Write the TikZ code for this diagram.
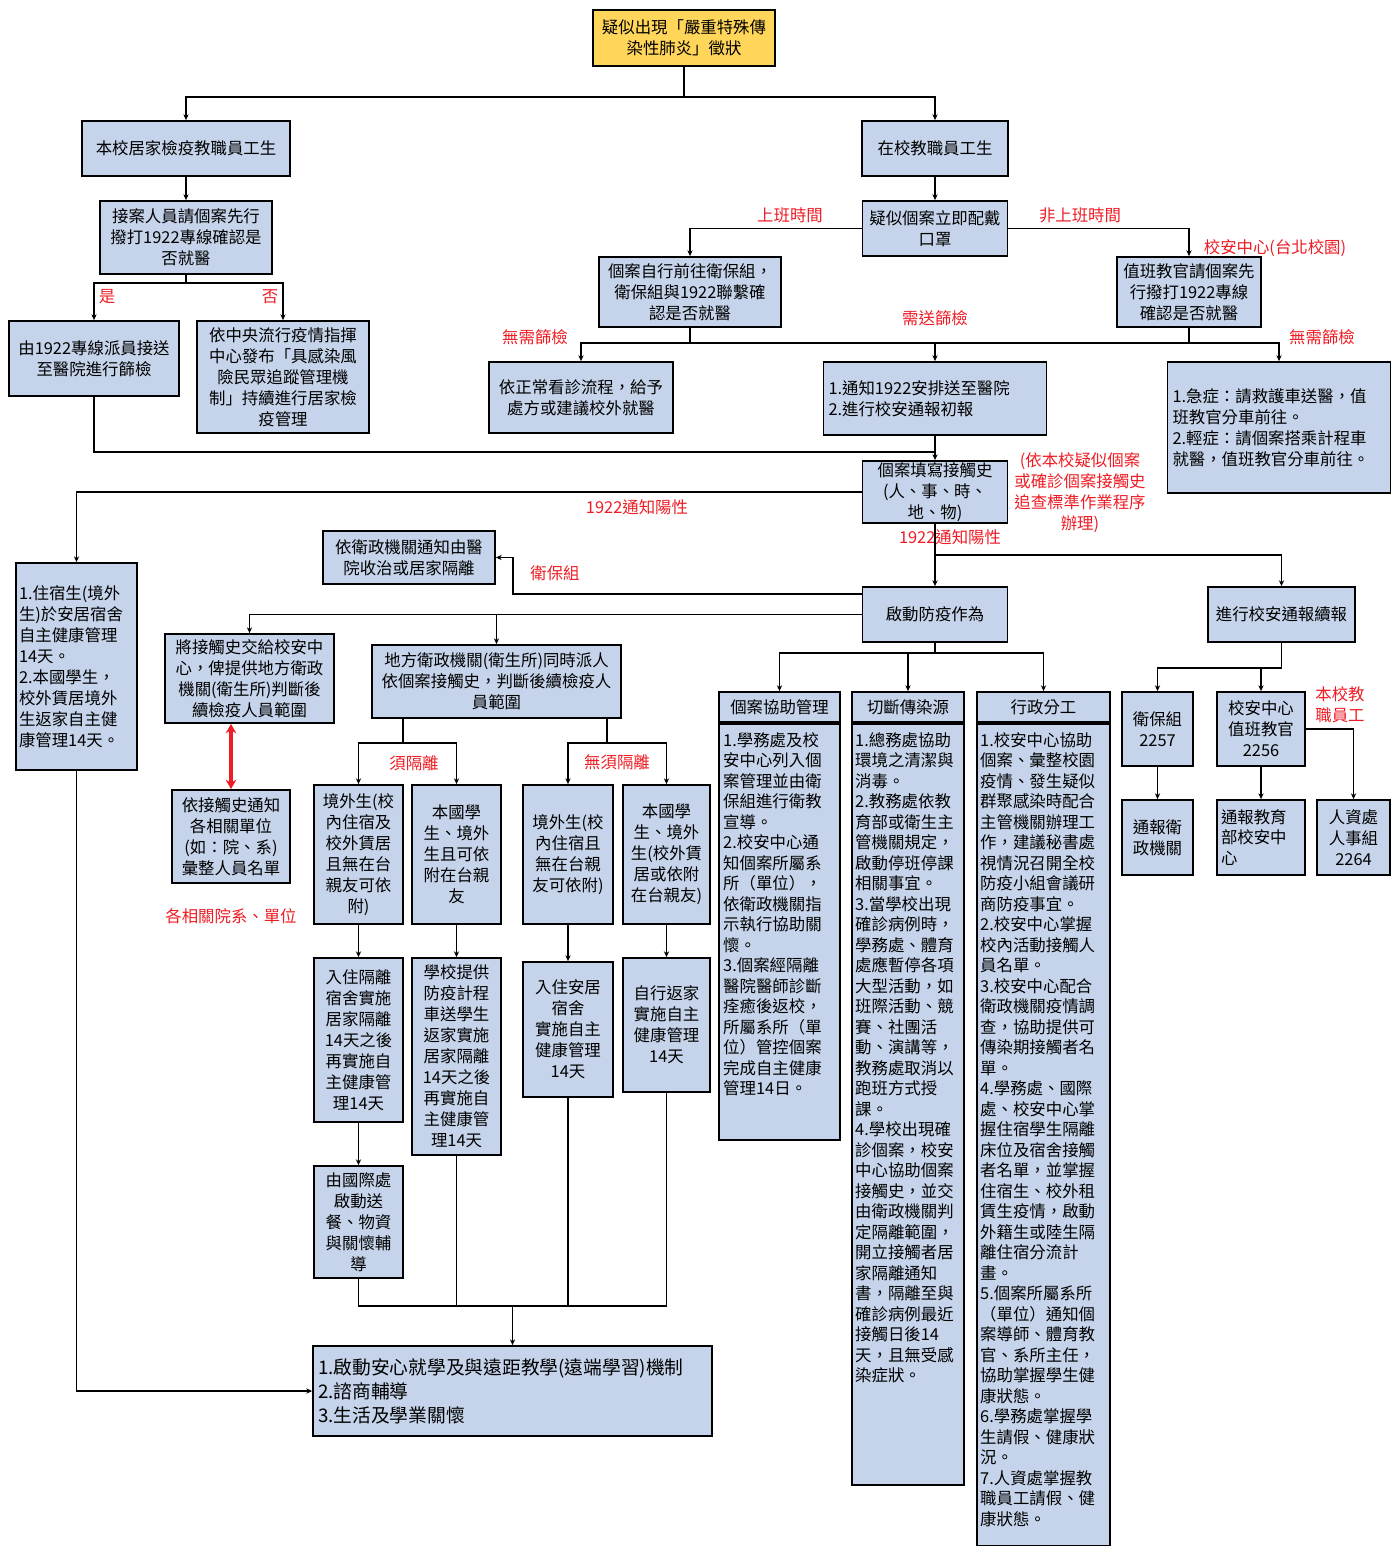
\documentclass[tikz,border=0pt]{standalone}
\usepackage{fontspec}
\setmainfont{Noto Sans CJK TC}
\usetikzlibrary{arrows.meta,positioning}

\definecolor{boxblue}{RGB}{197,212,234}
\definecolor{alertyellow}{RGB}{255,213,90}
\definecolor{notered}{RGB}{238,28,36}
\newcommand{\boxfont}{\fontsize{14}{17.9}\selectfont}

\tikzset{
  box/.style 2 args={draw, line width=1.5pt, fill=boxblue, minimum width=#1*0.3mm,
    minimum height=#2*0.3mm, inner sep=1pt, align=center, font=\boxfont},
  bodytext/.style={anchor=north west, align=left, inner sep=0pt, font=\fontsize{14}{17.5}\selectfont},
  lbl/.style={text=notered, inner sep=0pt, align=center, font=\boxfont},
  line/.style={line width=1.4pt},
  arr/.style={line, -{Stealth[length=5pt,width=4.5pt]}},
  dblarr/.style={draw=notered, line width=3pt,
    {Stealth[length=8pt,width=9pt]}-{Stealth[length=8pt,width=9pt]}}
}

\begin{document}
\begin{tikzpicture}[x=0.3mm, y=-0.3mm]
\useasboundingbox (0,0) rectangle (1399,1546);

% top of the chart
\node[box={182}{56}, fill=alertyellow] (sympt) at (684,38) {疑似出現「嚴重特殊傳\\染性肺炎」徵狀};
\node[box={208}{55}] (home) at (186,148.5) {本校居家檢疫教職員工生};
\node[box={146}{55}] (onsite) at (935,148.5) {在校教職員工生};

% home quarantine side
\node[box={172}{73}] (callhome) at (186,237.5) {接案人員請個案先行\\撥打1922專線確認是\\否就醫};
\node[box={170}{75}] (tohosp) at (94,358.5) {由1922專線派員接送\\至醫院進行篩檢};
\node[box={172}{112}] (keepquar) at (283,377) {依中央流行疫情指揮\\中心發布「具感染風\\險民眾追蹤管理機\\制」持續進行居家檢\\疫管理};

% on campus side
\node[box={145}{55}] (mask) at (935,228.5) {疑似個案立即配戴\\口罩};
\node[box={182}{70}] (clinic) at (690,292) {個案自行前往衛保組，\\衛保組與1922聯繫確\\認是否就醫};
\node[box={144}{70}] (duty) at (1189,292) {值班教官請個案先\\行撥打1922專線\\確認是否就醫};
\node[box={184}{71}] (normal) at (581,397.5) {依正常看診流程，給予\\處方或建議校外就醫};
\node[box={223}{73}, align=left, text width=213*0.3mm] (notify) at (935,398.5) {1.通知1922安排送至醫院\\2.進行校安通報初報};
\node[box={223}{131}, align=left, text width=213*0.3mm] (emerg) at (1279,427.5) {1.急症：請救護車送醫，值\\班教官分車前往。\\2.輕症：請個案搭乘計程車\\就醫，值班教官分車前往。};
\node[box={145}{62}] (contact) at (935,492) {個案填寫接觸史\\(人、事、時、\\地、物)};

% after the 1922 result
\node[box={121}{207}, align=left, text width=115*0.3mm] (dorm) at (76.5,666.5) {1.住宿生(境外\\生)於安居宿舍\\自主健康管理\\14天。\\2.本國學生，\\校外賃居境外\\生返家自主健\\康管理14天。};
\node[box={172}{53}] (hospq) at (409,557.5) {依衛政機關通知由醫\\院收治或居家隔離};
\node[box={145}{55}] (start) at (935,614.5) {啟動防疫作為};
\node[box={147}{55}] (report) at (1281.5,614.5) {進行校安通報續報};
\node[box={169}{89}] (handover) at (249.5,678.5) {將接觸史交給校安中\\心，俾提供地方衛政\\機關(衛生所)判斷後\\續檢疫人員範圍};
\node[box={249}{73}] (health) at (496.5,681.5) {地方衛政機關(衛生所)同時派人\\依個案接觸史，判斷後續檢疫人\\員範圍};
\node[box={118}{93}] (unitlist) at (231,836.5) {依接觸史通知\\各相關單位\\(如：院、系)\\彙整人員名單};

% isolation columns
\node[box={89}{139}] (isoa) at (358.5,854.5) {境外生(校\\內住宿及\\校外賃居\\且無在台\\親友可依\\附)};
\node[box={89}{139}] (isob) at (456.5,854.5) {本國學\\生、境外\\生且可依\\附在台親\\友};
\node[box={90}{139}] (freea) at (568,854.5) {境外生(校\\內住宿且\\無在台親\\友可依附)};
\node[box={87}{139}] (freeb) at (666.5,854.5) {本國學\\生、境外\\生(校外賃\\居或依附\\在台親友)};
\node[box={89}{164}] (isoastay) at (358.5,1040) {入住隔離\\宿舍實施\\居家隔離\\14天之後\\再實施自\\主健康管\\理14天};
\node[box={89}{197}] (isobstay) at (456.5,1056.5) {學校提供\\防疫計程\\車送學生\\返家實施\\居家隔離\\14天之後\\再實施自\\主健康管\\理14天};
\node[box={90}{135}] (freeastay) at (568,1029.5) {入住安居\\宿舍\\實施自主\\健康管理\\14天};
\node[box={87}{134}] (freebstay) at (666.5,1025) {自行返家\\實施自主\\健康管理\\14天};
\node[box={89}{112}] (meals) at (358.5,1222) {由國際處\\啟動送\\餐、物資\\與關懷輔\\導};
\node[box={399}{90}, align=left, text width=389*0.3mm, font=\fontsize{16}{20.5}\selectfont] (study) at (512.5,1391) {1.啟動安心就學及與遠距教學(遠端學習)機制\\2.諮商輔導\\3.生活及學業關懷};

% three task columns
\node[box={121}{30}] (casehead) at (779.5,707) {個案協助管理};
\node[box={121}{416}, anchor=north] (casebody) at (casehead.south) {};
\node[bodytext] (casetext) at (723,732) {1.學務處及校\\安中心列入個\\案管理並由衛\\保組進行衛教\\宣導。\\2.校安中心通\\知個案所屬系\\所（單位），\\依衛政機關指\\示執行協助關\\懷。\\3.個案經隔離\\醫院醫師診斷\\痊癒後返校，\\所屬系所（單\\位）管控個案\\完成自主健康\\管理14日。};
\node[box={112}{30}] (cuthead) at (908,707) {切斷傳染源};
\node[box={112}{761}, anchor=north] (cutbody) at (cuthead.south) {};
\node[bodytext] (cuttext) at (855,732) {1.總務處協助\\環境之清潔與\\消毒。\\2.教務處依教\\育部或衛生主\\管機關規定，\\啟動停班停課\\相關事宜。\\3.當學校出現\\確診病例時，\\學務處、體育\\處應暫停各項\\大型活動，如\\班際活動、競\\賽、社團活\\動、演講等，\\教務處取消以\\跑班方式授\\課。\\4.學校出現確\\診個案，校安\\中心協助個案\\接觸史，並交\\由衛政機關判\\定隔離範圍，\\開立接觸者居\\家隔離通知\\書，隔離至與\\確診病例最近\\接觸日後14\\天，且無受感\\染症狀。};
\node[box={133}{30}] (adminhead) at (1043.5,707) {行政分工};
\node[box={133}{822}, anchor=north] (adminbody) at (adminhead.south) {};
\node[bodytext] (admintext) at (980,732) {1.校安中心協助\\個案、彙整校園\\疫情、發生疑似\\群聚感染時配合\\主管機關辦理工\\作，建議秘書處\\視情況召開全校\\防疫小組會議研\\商防疫事宜。\\2.校安中心掌握\\校內活動接觸人\\員名單。\\3.校安中心配合\\衛政機關疫情調\\查，協助提供可\\傳染期接觸者名\\單。\\4.學務處、國際\\處、校安中心掌\\握住宿學生隔離\\床位及宿舍接觸\\者名單，並掌握\\住宿生、校外租\\賃生疫情，啟動\\外籍生或陸生隔\\離住宿分流計\\畫。\\5.個案所屬系所\\（單位）通知個\\案導師、體育教\\官、系所主任，\\協助掌握學生健\\康狀態。\\6.學務處掌握學\\生請假、健康狀\\況。\\7.人資處掌握教\\職員工請假、健\\康狀態。};

% reporting boxes
\node[box={71}{74}] (nurse) at (1157.5,729) {衛保組\\2257};
\node[box={88}{74}] (guard) at (1261,729) {校安中心\\值班教官\\2256};
\node[box={71}{75}] (tohealth) at (1157.5,837.5) {通報衛\\政機關};
\node[box={88}{75}, align=left, text width=80*0.3mm] (tomoe) at (1261,837.5) {通報教育\\部校安中\\心};
\node[box={73}{75}] (tohr) at (1353.5,837.5) {人資處\\人事組\\2264};

% red labels
\node[lbl] (yes) at (107,297) {是};
\node[lbl] (no) at (270,297) {否};
\node[lbl] (worktime) at (790,215) {上班時間};
\node[lbl] (offtime) at (1080,215) {非上班時間};
\node[lbl] (center) at (1275,248) {校安中心(台北校園)};
\node[lbl] (noscreena) at (535,337) {無需篩檢};
\node[lbl] (screen) at (935,318) {需送篩檢};
\node[lbl] (noscreenb) at (1322,337) {無需篩檢};
\node[lbl] (sop) at (1080,493) {(依本校疑似個案\\或確診個案接觸史\\追查標準作業程序\\辦理)};
\node[lbl] (posa) at (637,507) {1922通知陽性};
\node[lbl] (posb) at (950,537) {1922通知陽性};
\node[lbl] (nurselbl) at (555,573) {衛保組};
\node[lbl] (units) at (231,916) {各相關院系、單位};
\node[lbl] (mustiso) at (414,763) {須隔離};
\node[lbl] (noiso) at (617,762) {無須隔離};
\node[lbl] (staff) at (1340,705) {本校教\\職員工};

% connectors
\coordinate (split1) at (684,97);
\draw[line] (sympt) -- (split1);
\draw[arr] (split1) -| (home);
\draw[arr] (split1) -| (onsite);
\draw[arr] (home) -- (callhome);
\coordinate (split2) at (186,283);
\draw[line] (callhome) -- (split2);
\draw[arr] (split2) -| (tohosp);
\draw[arr] (split2) -| (keepquar);
\draw[arr] (onsite) -- (mask);
\draw[arr] (mask.west) -| (clinic);
\draw[arr] (mask.east) -| (duty);
\coordinate (split3) at (935,343);
\draw[line] (clinic.south) -- (clinic.south |- split3);
\draw[line] (duty.south) -- (duty.south |- split3);
\draw[arr] (split3) -| (normal);
\draw[arr] (split3) -| (emerg);
\draw[arr] (split3) -- (notify);
\draw[arr] (notify) -- (contact);
\coordinate (merge) at (935,452);
\draw[line] (tohosp.south) |- (merge);
\draw[arr] (contact.west) -| (dorm);
\draw[arr] (contact) -- (start);
\coordinate (split4) at (935,555);
\draw[arr] (split4) -| (report);
\coordinate (bend) at (513,594);
\draw[arr] (start.west |- bend) -- (bend) |- (hospq.east);
\draw[arr] (start.west) -| (handover);
\draw[arr] (health.north |- start.west) -- (health.north);
\draw[dblarr] (unitlist.north |- handover.south) -- (unitlist.north);
\coordinate (splitiso) at (403,743);
\coordinate (splitfree) at (607,743);
\draw[line] (splitiso |- health.south) -- (splitiso);
\draw[line] (splitfree |- health.south) -- (splitfree);
\draw[arr] (splitiso) -| (isoa);
\draw[arr] (splitiso) -| (isob);
\draw[arr] (splitfree) -| (freea);
\draw[arr] (splitfree) -| (freeb);
\draw[arr] (isoa) -- (isoastay);
\draw[arr] (isob) -- (isobstay);
\draw[arr] (freea) -- (freeastay);
\draw[arr] (freeb) -- (freebstay);
\draw[arr] (isoastay) -- (meals);
\coordinate (join) at (512.5,1306);
\draw[line] (meals.south) |- (freebstay.south |- join) -- (freebstay.south);
\draw[line] (isobstay.south) -- (isobstay.south |- join);
\draw[line] (freeastay.south) -- (freeastay.south |- join);
\draw[arr] (join) -- (study);
\draw[arr] (dorm.south) |- (study.west);
\coordinate (split5) at (935,653);
\draw[arr] (split5) -| (casehead);
\draw[arr] (split5) -| (adminhead);
\draw[arr] (split5 -| cuthead) -- (cuthead);
\draw[line] (start) -- (split5);
\coordinate (split6) at (1281.5,668);
\draw[line] (report) -- (split6);
\draw[arr] (split6) -| (nurse);
\draw[arr] (split6) -| (guard);
\draw[arr] (nurse) -- (tohealth);
\draw[arr] (guard) -- (tomoe);
\draw[arr] (guard.east) -| (tohr);
\end{tikzpicture}
\end{document}
